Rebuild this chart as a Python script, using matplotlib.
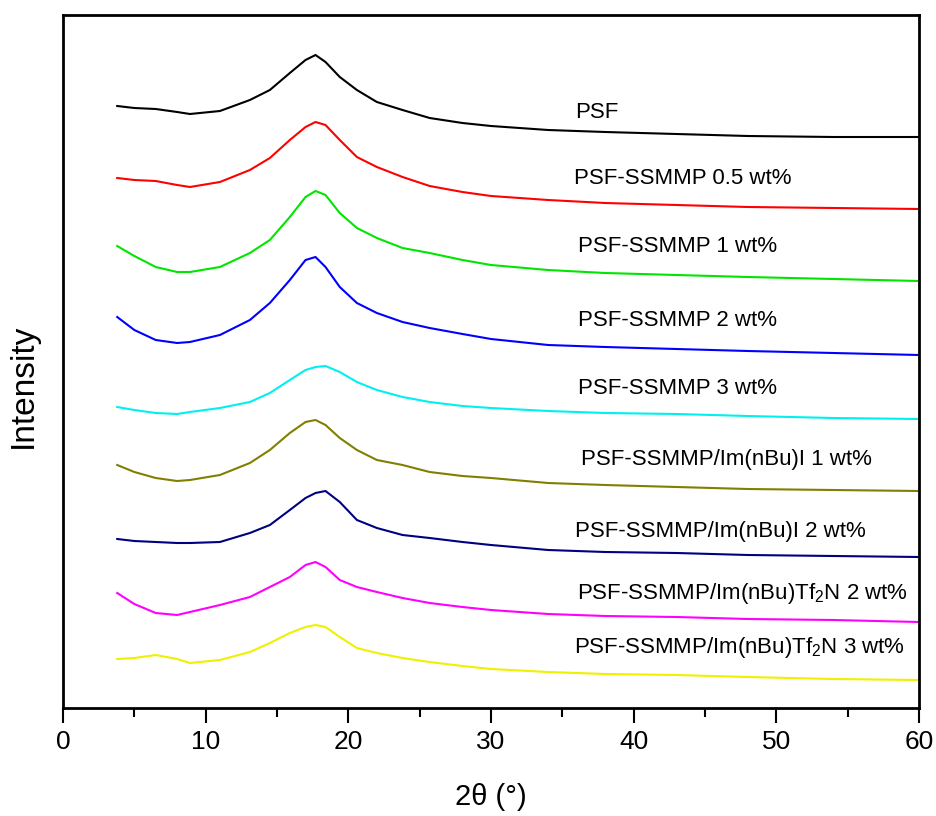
import matplotlib
matplotlib.use("Agg")
import matplotlib.pyplot as plt
from matplotlib.ticker import MultipleLocator

plt.rcParams['font.family'] = ['Liberation Sans', 'DejaVu Sans']
plt.rcParams['mathtext.default'] = 'regular'

# 2theta sampling points (deg)
two_theta = [3.8, 5, 6.5, 8, 8.9, 11, 13.1, 14.5, 15.9, 17, 17.7, 18.4, 19.4,
             20.6, 22, 23.8, 25.7, 28, 30, 34, 38, 43, 48, 54, 60]

# intensities (arb. units, stacked as in the figure)
psf = [602, 600, 599, 596, 594, 597, 608, 618, 635, 648, 653, 646, 631,
       618, 606, 598, 590, 585, 582, 578, 576, 574, 572, 571, 571]
ssmmp_05 = [530, 528, 527, 523, 521, 526, 538, 550, 568, 581, 586, 583, 568,
            551, 541, 531, 522, 516, 512, 508, 505, 503, 501, 500, 499]
ssmmp_1 = [462, 452, 441, 436, 436, 441, 455, 468, 491, 511, 517, 513, 495,
           480, 470, 460, 455, 448, 443, 438, 435, 433, 431, 429, 427]
ssmmp_2 = [391, 378, 368, 365, 366, 373, 388, 405, 428, 448, 451, 441, 421,
           405, 395, 386, 380, 374, 369, 363, 361, 359, 357, 355, 353]
ssmmp_3 = [301, 298, 295, 294, 296, 300, 306, 315, 328, 338, 341, 342, 336,
           326, 318, 311, 306, 302, 300, 297, 295, 294, 292, 290, 289]
im_i_1 = [243, 236, 230, 227, 228, 233, 245, 258, 275, 286, 288, 283, 270,
          258, 248, 243, 236, 232, 230, 225, 223, 221, 219, 218, 217]
im_i_2 = [169, 167, 166, 165, 165, 166, 175, 183, 198, 210, 215, 217, 206,
          188, 180, 173, 170, 166, 163, 158, 156, 155, 153, 152, 151]
tf2n_2 = [115, 104, 95, 93, 96, 103, 111, 121, 131, 143, 146, 141, 128,
          121, 116, 110, 105, 101, 98, 94, 92, 91, 89, 88, 86]
tf2n_3 = [49, 50, 53, 49, 45, 48, 56, 65, 75, 81, 83, 81, 71,
          60, 55, 50, 46, 42, 39, 36, 34, 33, 31, 29, 28]

series = [psf, ssmmp_05, ssmmp_1, ssmmp_2, ssmmp_3, im_i_1, im_i_2, tf2n_2, tf2n_3]
labels = ['PSF', 'PSF-SSMMP 0.5 wt%', 'PSF-SSMMP 1 wt%', 'PSF-SSMMP 2 wt%',
          'PSF-SSMMP 3 wt%', 'PSF-SSMMP/Im(nBu)I 1 wt%', 'PSF-SSMMP/Im(nBu)I 2 wt%',
          'PSF-SSMMP/Im(nBu)Tf$_2$N 2 wt%', 'PSF-SSMMP/Im(nBu)Tf$_2$N 3 wt%']
colors = ['#000000', '#FF0000', '#00E600', '#0000FF', '#00F0F0',
          '#808000', '#000080', '#FF00FF', '#F0F000']
# label anchors (x in deg, y in intensity units)
label_x = [35.9, 35.8, 36.1, 36.1, 36.1, 36.3, 35.9, 36.0, 35.8]
label_y = [595, 530, 461, 388, 320, 248, 176, 115, 60]

fig = plt.figure(figsize=(9.36, 8.16), dpi=100)
ax = fig.add_axes([63 / 936, 108 / 816, 856 / 936, 693 / 816])

for ys, c in zip(series, colors):
    ax.plot(two_theta, ys, color=c, lw=1.5, solid_joinstyle='round')

for lx, ly, lab in zip(label_x, label_y, labels):
    ax.text(lx, ly, lab, fontsize=16, ha='left', va='center')

ax.set_xlim(0, 60)
ax.set_ylim(0, 693)
ax.xaxis.set_major_locator(MultipleLocator(10))
ax.xaxis.set_minor_locator(MultipleLocator(5))
ax.tick_params(axis='x', which='major', direction='out', length=11, width=1.5,
               labelsize=19, pad=5)
ax.tick_params(axis='x', which='minor', direction='out', length=6.5, width=1.5)
ax.tick_params(axis='x', top=False)
ax.set_yticks([])
for s in ax.spines.values():
    s.set_linewidth(2)

fig.text(491 / 936, 1 - 797 / 816, '2\u03b8 (\u00b0)', fontsize=21,
         ha='center', va='center')
fig.text(23 / 936, 1 - 386 / 816, 'Intensity', fontsize=24, rotation=90,
         ha='center', va='center')

fig.savefig('out.png', dpi=100, facecolor='white')
